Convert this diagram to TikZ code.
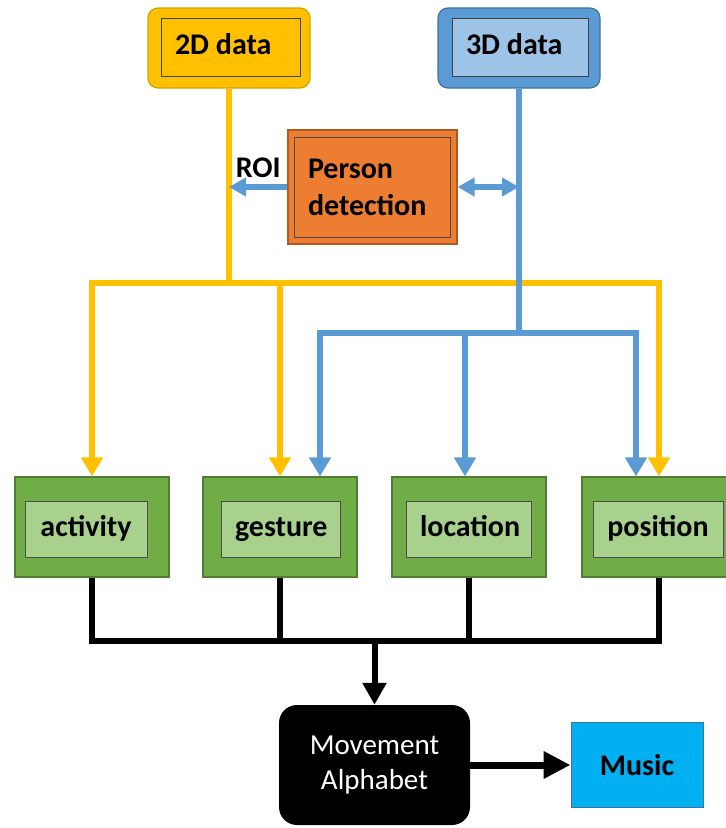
\documentclass[tikz,border=0pt]{standalone}
\usepackage{fontspec}
\setmainfont{Carlito}
\usepackage{xcolor}
\usetikzlibrary{arrows.meta, positioning}

\definecolor{yel}{HTML}{FFC000}
\definecolor{yelD}{HTML}{D4A200}
\definecolor{blu}{HTML}{5B9BD5}
\definecolor{bluD}{HTML}{41719C}
\definecolor{bluL}{HTML}{9DC3E6}
\definecolor{org}{HTML}{ED7D31}
\definecolor{orgD}{HTML}{AE5A21}
\definecolor{grn}{HTML}{70AD47}
\definecolor{grnD}{HTML}{507E32}
\definecolor{grnL}{HTML}{A9D18E}
\definecolor{mus}{HTML}{00B0F0}

\begin{document}
\begin{tikzpicture}[x=1pt, y=-1pt,
    lbl/.style={font=\fontsize{30}{37}\selectfont\bfseries},
    outbox/.style={rectangle, draw, line width=1.2pt, inner sep=0pt},
    inbox/.style={rectangle, draw=black!75, line width=1pt, inner xsep=14pt, inner ysep=0pt, lbl},
    oneline/.style={text height=20pt, text depth=6pt},
    srcbox/.style={outbox, rounded corners=10pt, minimum width=162pt, minimum height=80pt},
    featbox/.style={outbox, fill=grn, draw=grnD, minimum width=154pt, minimum height=100pt},
    featin/.style={inbox, oneline, fill=grnL, draw=black!70, minimum height=56pt, align=center},
    yline/.style={draw=yel, line width=6pt},
    yarr/.style={yline, -{Triangle[length=19pt, width=21pt]}},
    bline/.style={draw=blu, line width=6pt},
    barr/.style={bline, -{Triangle[length=19pt, width=21pt]}},
    bsmall/.style={bline, -{Triangle[length=17pt, width=18pt]}},
    bdbl/.style={bline, {Triangle[length=17pt, width=18pt]}-{Triangle[length=17pt, width=18pt]}},
    kline/.style={draw=black, line width=6pt},
    karr/.style={kline, -{Triangle[length=22pt, width=23pt]}}
]
\useasboundingbox (0,0) rectangle (726,828);

% Sources
\node[srcbox, fill=yel, draw=yelD] (d2) at (229,48) {};
\node[inbox, oneline, fill=yel, minimum height=58pt, text width=111pt, align=flush left] (d2in) at (230.5,47) {2D data};
\node[srcbox, fill=blu, draw=bluD] (d3) at (519,48) {};
\node[inbox, oneline, fill=bluL, minimum height=58pt, text width=108pt, align=flush left] (d3in) at (520,47) {3D data};

% Person detection
\node[outbox, fill=org, draw=orgD, minimum width=169pt, minimum height=114pt] (pd) at (372.5,187) {};
\node[inbox, fill=org, draw=black!70, minimum height=100pt, text width=128pt, align=flush left] (pdin) at (372,187) {Person\\detection};

% Features
\node[featbox] (act) at (92,527) {};
\node[featin, text width=94pt] (actin) at (86,529) {activity};
\node[featbox] (gest) at (280,527) {};
\node[featin, text width=91pt] (gestin) at (280.5,529) {gesture};
\node[featbox] (loc) at (469,527) {};
\node[featin, text width=97pt] (locin) at (468.5,529) {location};
\node[featbox] (pos) at (659,527) {};
\node[featin, text width=102pt] (posin) at (658,529) {position};

% Output
\node[rectangle, rounded corners=18pt, fill=black, minimum width=191pt, minimum height=120pt, text=white, align=center, font=\fontsize{29}{35}\selectfont] (mov) at (374.5,765) {Movement\\Alphabet};
\node[outbox, fill=mus, draw=bluD, line width=1pt, minimum width=132pt, minimum height=85pt, lbl] (mu) at (637,765) {Music};

% Junctions
\coordinate (ysplit) at (229,283);
\coordinate (bsplit) at (519,333);
\coordinate (kj) at (374.5,641);

% 2D data lines
\draw[yline] (d2.south) -- (ysplit);
\draw[yarr] (ysplit) -| (act.north);
\draw[yarr] (ysplit) -| (gest.north);
\draw[yarr] (ysplit) -| (pos.north);

% 3D data lines
\draw[bline] (d3.south) -- (bsplit);
\draw[barr] (bsplit) -| ([xshift=40pt]gest.north);
\draw[barr] (bsplit) -| ([xshift=-4pt]loc.north);
\draw[barr] (bsplit) -| ([xshift=-23pt]pos.north);

% Person detection arrows
\draw[bsmall] (pd.west) -- (pd.west -| d2.south) node[midway, above=3pt, lbl, text=black] (roi) {ROI};
\draw[bdbl] (pd.east) -- (pd.east -| d3.south);

% Features to alphabet
\draw[kline] (act.south) |- (kj) -| (pos.south);
\draw[kline] (gest.south) -- (gest.south |- kj);
\draw[kline] (loc.south) -- (loc.south |- kj);
\draw[karr] (kj) -- (mov.north);
\draw[kline, line width=7pt, -{Triangle[length=27pt, width=26pt]}] (mov) -- (mu);

\end{tikzpicture}
\end{document}
